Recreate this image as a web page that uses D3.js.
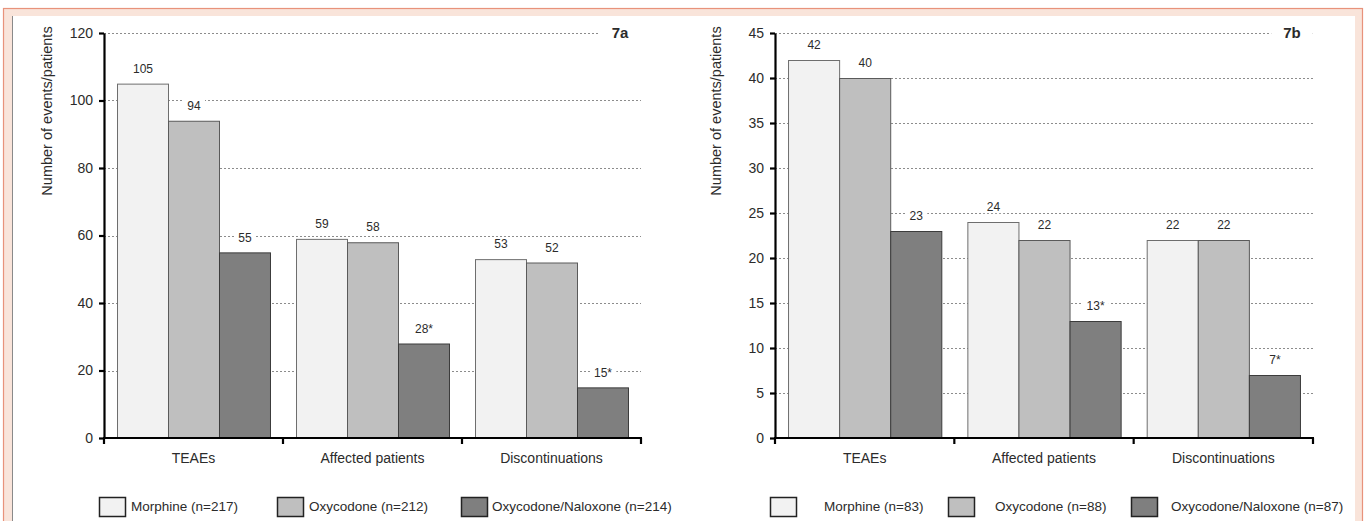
<!DOCTYPE html>
<html>
<head>
<meta charset="utf-8">
<script src="https://cdn.jsdelivr.net/npm/d3@7/dist/d3.min.js"></script>
<style>
  html, body { margin: 0; padding: 0; background: #fff; }
  svg { display: block; }
  text { font-family: "Liberation Sans", Arial, sans-serif; fill: #2b2b2b; }
</style>
</head>
<body>
<svg id="chart" width="1365" height="521"></svg>
<script>
// ---------- data ----------
const categories = ["TEAEs", "Affected patients", "Discontinuations"];
const seriesNames = ["Morphine", "Oxycodone", "Oxycodone/Naloxone"];
const valuesA = [[105, 94, 55], [59, 58, 28], [53, 52, 15]];
const starsA  = [[false, false, false], [false, false, true], [false, false, true]];
const valuesB = [[42, 40, 23], [24, 22, 13], [22, 22, 7]];
const starsB  = [[false, false, false], [false, false, true], [false, false, true]];
const legendA = ["Morphine (n=217)", "Oxycodone (n=212)", "Oxycodone/Naloxone (n=214)"];
const legendB = ["Morphine (n=83)", "Oxycodone (n=88)", "Oxycodone/Naloxone (n=87)"];
const ticksA = [0, 20, 40, 60, 80, 100, 120];
const ticksB = [0, 5, 10, 15, 20, 25, 30, 35, 40, 45];
const yTitle = "Number of events/patients";

// ---------- styles ----------
const fills   = ["#f2f2f2", "#bfbfbf", "#7f7f7f"];
const strokes = ["#6e6e6e", "#5a5a5a", "#3c3c3c"];

const svg = d3.select("#chart");

// frame
svg.append("rect").attr("x", 3.5).attr("y", 8.5).attr("width", 1359).attr("height", 530)
  .attr("fill", "#f9e4da").attr("stroke", "#e8927b").attr("stroke-width", 1.2);
svg.append("rect").attr("x", 12).attr("y", 16).attr("width", 1343).attr("height", 520).attr("fill", "#fff");
svg.append("line").attr("x1", 12.5).attr("x2", 12.5).attr("y1", 16).attr("y2", 521)
  .attr("stroke", "#8a8a8a").attr("stroke-width", 1);

function labelWithBg(g, x, y, txt, opts) {
  const t = g.append("text").attr("x", x).attr("y", y).attr("text-anchor", opts.anchor || "middle")
    .attr("dominant-baseline", "middle")
    .style("font-size", opts.size + "px").style("font-weight", opts.weight || "normal").text(txt);
  const b = t.node().getBBox();
  g.insert("rect", () => t.node())
    .attr("x", b.x - opts.padX).attr("y", b.y + 1).attr("width", b.width + 2 * opts.padX).attr("height", b.height - 2)
    .attr("fill", "#fff");
  return t;
}

function panel(cfg) {
  const g = svg.append("g");
  const y = d3.scaleLinear().domain([0, cfg.max]).range([438, 33]);
  const x0 = d3.scaleBand().domain(categories).range([cfg.left, cfg.right]).paddingInner(0).paddingOuter(0);
  const x1 = d3.scaleBand().domain(seriesNames).range([0, x0.bandwidth()]).paddingInner(0).paddingOuter(0.255);

  // grid lines
  g.append("g").selectAll("line").data(cfg.ticks.filter(d => d > 0)).join("line")
    .attr("x1", cfg.left).attr("x2", cfg.right)
    .attr("y1", d => Math.round(y(d)) + 0.5).attr("y2", d => Math.round(y(d)) + 0.5)
    .attr("stroke", "#8c8c8c").attr("stroke-width", 1).attr("stroke-dasharray", "2,2");

  // bars
  const grp = g.append("g").selectAll("g").data(categories).join("g")
    .attr("transform", c => `translate(${x0(c)},0)`);
  grp.selectAll("rect").data((c, i) => cfg.values[i].map((v, j) => ({ s: seriesNames[j], v, j })))
    .join("rect")
    .attr("x", d => x1(d.s) + 0.5).attr("width", x1.bandwidth())
    .attr("y", d => y(d.v) + 0.5).attr("height", d => y(0) - y(d.v))
    .attr("fill", d => fills[d.j]).attr("stroke", d => strokes[d.j]).attr("stroke-width", 1);

  // value labels
  const lg = g.append("g");
  categories.forEach((c, i) => {
    cfg.values[i].forEach((v, j) => {
      const txt = v + (cfg.stars[i][j] ? "*" : "");
      labelWithBg(lg, x0(c) + x1(seriesNames[j]) + x1.bandwidth() / 2 + 0.5, y(v) - 14, txt, { size: 12, padX: 4 });
    });
  });

  // tag
  labelWithBg(g, cfg.tagX, 34, cfg.tag, { size: 15, weight: "bold", padX: 12 });

  // y axis
  const ya = g.append("g").attr("transform", `translate(${cfg.left},0)`)
    .call(d3.axisLeft(y).tickValues(cfg.ticks).tickSize(5).tickSizeOuter(0).tickPadding(6));
  ya.select(".domain").attr("stroke", "#000").attr("stroke-width", 2.2);
  ya.selectAll(".tick line").attr("stroke", "#000").attr("stroke-width", 2.2);
  ya.selectAll(".tick text").style("font-size", "14px").style("font-family", "Liberation Sans, Arial, sans-serif").attr("fill", "#2b2b2b");

  // x axis
  const xa = g.append("g");
  xa.append("line").attr("x1", cfg.left - 1).attr("x2", cfg.right + 1).attr("y1", y(0)).attr("y2", y(0))
    .attr("stroke", "#000").attr("stroke-width", 2.2);
  const bounds = categories.map(c => x0(c)).concat([cfg.right]);
  xa.selectAll("line.tk").data(bounds).join("line").attr("class", "tk")
    .attr("x1", d => d).attr("x2", d => d).attr("y1", y(0)).attr("y2", y(0) + 6)
    .attr("stroke", "#000").attr("stroke-width", 2.2);
  xa.selectAll("text").data(categories).join("text")
    .attr("x", c => x0(c) + x0.bandwidth() / 2).attr("y", 459)
    .attr("text-anchor", "middle").attr("dominant-baseline", "middle")
    .style("font-size", "14px").text(c => c);

  // y title
  g.append("text").attr("transform", `translate(${cfg.titleX},111) rotate(-90)`)
    .attr("text-anchor", "middle").attr("dominant-baseline", "middle")
    .style("font-size", "14.5px").text(yTitle);

  // legend
  const leg = g.append("g");
  cfg.legend.forEach((name, j) => {
    leg.append("rect").attr("x", cfg.boxX[j] + 0.5).attr("y", 497.5).attr("width", 26).attr("height", 19)
      .attr("fill", fills[j]).attr("stroke", "#222").attr("stroke-width", 1.5);
    leg.append("text").attr("x", cfg.textX[j]).attr("y", 507.5).attr("dominant-baseline", "middle")
      .style("font-size", "13.5px").text(name);
  });
}

panel({ left: 104, right: 641, max: 120, ticks: ticksA, values: valuesA, stars: starsA,
  tag: "7a", tagX: 620, titleX: 48, legend: legendA, boxX: [99, 277, 461], textX: [131, 309, 492] });
panel({ left: 775, right: 1313, max: 45, ticks: ticksB, values: valuesB, stars: starsB,
  tag: "7b", tagX: 1292, titleX: 717, legend: legendB, boxX: [770, 948, 1131], textX: [824, 995, 1171] });
</script>
</body>
</html>
